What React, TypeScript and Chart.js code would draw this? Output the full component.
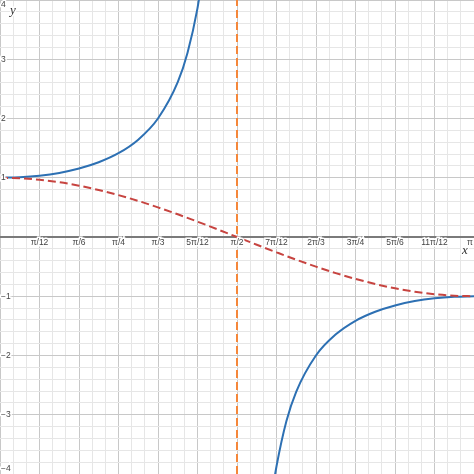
import { useEffect, useRef } from "react";
import Chart from "chart.js/auto";

// ── Values (x in radians) ─────────────────────────────────────────────────
const X_MIN = 0;
const X_MAX = Math.PI;
const Y_MIN = -4;
const Y_MAX = 4;

const xTickLabels = ["π/12", "π/6", "π/4", "π/3", "5π/12", "π/2", "7π/12", "2π/3", "3π/4", "5π/6", "11π/12", "π"];
const yTickLabels = [4, 3, 2, 1, -1, -2, -3, -4];

// blue solid curve, left branch (rises toward the asymptote)
const blueLeftX = [0, 0.131, 0.262, 0.393, 0.524, 0.654, 0.785, 0.916, 1.047, 1.178, 1.243, 1.309, 1.34];
const blueLeftY = [1, 1.009, 1.035, 1.082, 1.155, 1.261, 1.414, 1.643, 2.0, 2.613, 3.11, 3.864, 4.37];

// blue solid curve, right branch (comes up from below the asymptote)
const blueRightX = [1.8, 1.833, 1.898, 1.963, 2.094, 2.226, 2.356, 2.487, 2.618, 2.749, 2.88, 3.011, 3.1416];
const blueRightY = [-4.37, -3.864, -3.11, -2.613, -2.0, -1.643, -1.414, -1.261, -1.155, -1.082, -1.035, -1.009, -1];

// red dashed curve
const redX = [
  0, 0.131, 0.262, 0.393, 0.524, 0.654, 0.785, 0.916, 1.047, 1.178, 1.309, 1.44, 1.571,
  1.702, 1.833, 1.963, 2.094, 2.225, 2.356, 2.487, 2.618, 2.749, 2.88, 3.011, 3.1416,
];
const redY = [
  1, 0.991, 0.966, 0.924, 0.866, 0.793, 0.707, 0.609, 0.5, 0.383, 0.259, 0.131, 0,
  -0.131, -0.259, -0.383, -0.5, -0.609, -0.707, -0.793, -0.866, -0.924, -0.966, -0.991, -1,
];

// orange dashed vertical line
const asymptoteX = 1.5708;

const BLUE = "#2d70b3";
const RED = "#c74440";
const ORANGE = "#f5873a";
const LABEL_FONT = '"Liberation Sans", Arial, sans-serif';

const zip = (xs: number[], ys: number[]) => xs.map((x, i) => ({ x, y: ys[i] }));

const isMultiple = (v: number, step: number) => Math.abs(v / step - Math.round(v / step)) < 1e-6;

function haloText(c: CanvasRenderingContext2D, text: string, x: number, y: number) {
  c.lineWidth = 3;
  c.strokeStyle = "#ffffff";
  c.strokeText(text, x, y);
  c.fillText(text, x, y);
}

const axisLabels = {
  id: "axisLabels",
  afterDraw(chart: Chart) {
    const { ctx: c, scales } = chart;
    const xs = scales.x;
    const ys = scales.y;
    const y0 = ys.getPixelForValue(0);
    c.save();
    c.font = `8.5px ${LABEL_FONT}`;
    c.fillStyle = "#444";
    c.textBaseline = "middle";
    c.textAlign = "center";
    xTickLabels.forEach((label, i) => {
      let px = xs.getPixelForValue(((i + 1) * Math.PI) / 12);
      px = Math.min(px, xs.right - 4);
      haloText(c, label, px, y0 + 6);
    });
    c.textAlign = "left";
    yTickLabels.forEach((v) => {
      let py = ys.getPixelForValue(v);
      py = Math.max(ys.top + 5, Math.min(ys.bottom - 5, py));
      haloText(c, String(v).replace("-", "−"), xs.left + 1, py);
    });
    c.font = `italic 13px "Liberation Serif", "Times New Roman", serif`;
    c.fillStyle = "#333";
    c.textAlign = "center";
    haloText(c, "y", xs.left + 13, ys.top + 11);
    haloText(c, "x", xs.right - 9, y0 + 14);
    c.restore();
  },
};

function SecantChart() {
  const canvasRef = useRef<HTMLCanvasElement>(null);

  useEffect(() => {
    const ctx = canvasRef.current?.getContext("2d");
    if (!ctx) return;
    const chart = new Chart(ctx, {
      type: "line",
      data: {
        datasets: [
          {
            label: "asymptote",
            data: [
              { x: asymptoteX, y: Y_MIN },
              { x: asymptoteX, y: Y_MAX },
            ],
            borderColor: ORANGE,
            borderWidth: 2,
            borderDash: [8, 4],
            pointRadius: 0,
          },
          {
            label: "red",
            data: zip(redX, redY),
            borderColor: RED,
            borderWidth: 2,
            borderDash: [8, 4],
            pointRadius: 0,
            cubicInterpolationMode: "monotone",
          },
          {
            label: "blue left",
            data: zip(blueLeftX, blueLeftY),
            borderColor: BLUE,
            borderWidth: 2,
            pointRadius: 0,
            cubicInterpolationMode: "monotone",
          },
          {
            label: "blue right",
            data: zip(blueRightX, blueRightY),
            borderColor: BLUE,
            borderWidth: 2,
            pointRadius: 0,
            cubicInterpolationMode: "monotone",
          },
        ],
      },
      options: {
        animation: false,
        responsive: true,
        maintainAspectRatio: false,
        layout: { padding: 0 },
        plugins: { legend: { display: false }, tooltip: { enabled: false } },
        scales: {
          x: {
            type: "linear",
            min: X_MIN,
            max: X_MAX,
            border: { display: false },
            ticks: { display: false },
            afterBuildTicks: (scale) => {
              const step = Math.PI / 36;
              scale.ticks = Array.from({ length: 37 }, (_, i) => ({ value: i * step }));
            },
            grid: {
              drawTicks: false,
              color: (c) => (isMultiple(c.tick.value, Math.PI / 12) ? "#c8c8c8" : "#e6e6e6"),
              lineWidth: 1,
            },
          },
          y: {
            type: "linear",
            min: Y_MIN,
            max: Y_MAX,
            border: { display: false },
            ticks: { display: false },
            afterBuildTicks: (scale) => {
              scale.ticks = Array.from({ length: 41 }, (_, i) => ({ value: Y_MIN + i * 0.2 }));
            },
            grid: {
              drawTicks: false,
              color: (c) =>
                Math.abs(c.tick.value) < 1e-6 ? "#7a7a7a" : isMultiple(c.tick.value, 1) ? "#c8c8c8" : "#e6e6e6",
              lineWidth: (c) => (Math.abs(c.tick.value) < 1e-6 ? 2 : 1),
            },
          },
        },
      },
      plugins: [axisLabels],
    });
    return () => chart.destroy();
  }, []);

  return (
    <div style={{ position: "fixed", left: 0, top: 0, width: 474, height: 474, background: "#fff" }}>
      <canvas ref={canvasRef} />
    </div>
  );
}

export default function App() {
  return <SecantChart />;
}
